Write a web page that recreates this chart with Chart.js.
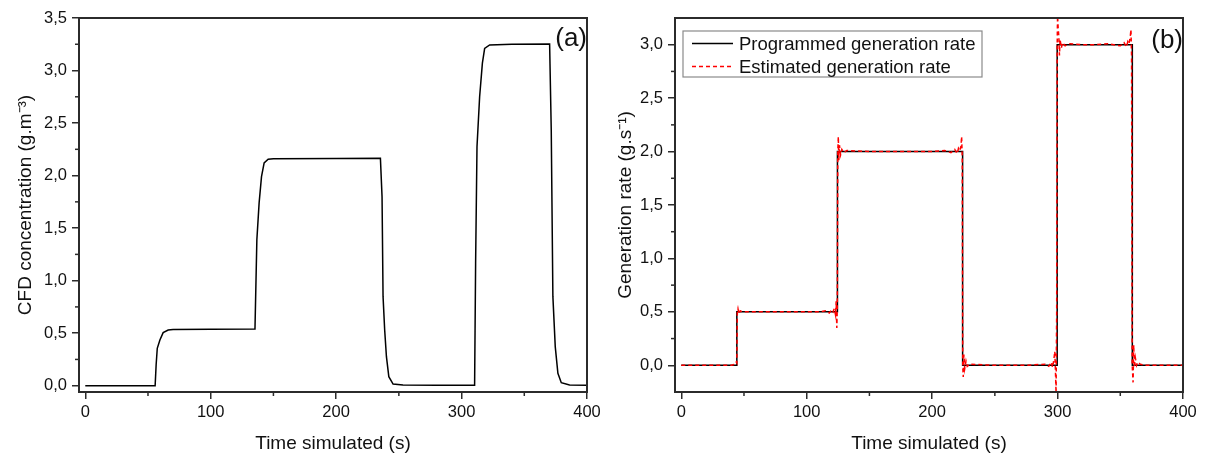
<!DOCTYPE html>
<html lang="en">
<head>
<meta charset="UTF-8">
<title>CFD concentration and generation rate</title>
<script src="https://cdn.jsdelivr.net/npm/chart.js"></script>
<style>
  body { margin: 0; background: #fff; width: 1206px; height: 457px; position: relative; overflow: hidden; }
  .panel { position: absolute; top: 0; height: 457px; }
  #panelA { left: 0; width: 600px; }
  #panelB { left: 600px; width: 606px; }
</style>
</head>
<body>
<div class="panel" id="panelA"><canvas id="chartA" width="600" height="457"></canvas></div>
<div class="panel" id="panelB"><canvas id="chartB" width="606" height="457"></canvas></div>

<script>
// ---- data ----
// (a) CFD concentration
const cfdTime = [0, 20, 40, 55.7, 56.5, 57.4, 59.5, 62.1, 66.1, 70,
  100, 135.3, 136.8, 138.6, 140.5, 142.6, 145.8, 150, 200,
  235.3, 236.6, 237.4, 238.7, 240.1, 242, 245.4, 253.3, 280,
  310.4, 311.2, 312.3, 314.4, 316.6, 318.4, 322.4, 340,
  370.2, 371.5, 372.8, 374.7, 376.8, 379.5, 386.1, 400];
const cfdConc = [0, 0, 0, 0, 0.2, 0.356, 0.435, 0.505, 0.53, 0.535,
  0.537, 0.54, 1.39, 1.74, 1.99, 2.12, 2.155, 2.16, 2.163,
  2.165, 1.80, 0.85, 0.53, 0.276, 0.086, 0.016, 0.006, 0.005,
  0.005, 1.165, 2.275, 2.75, 3.07, 3.21, 3.243, 3.25,
  3.252, 2.43, 0.85, 0.37, 0.118, 0.029, 0.007, 0.005];

// (b) programmed generation rate
const progTime = [0, 44.3, 44.3, 124.5, 124.5, 224.3, 224.3, 299.7, 299.7, 359.6, 359.6, 400];
const progRate = [0, 0, 0.5, 0.5, 2, 2, 0, 0, 3, 3, 0, 0];

// (b) estimated generation rate
const estTime = [0, 20, 40, 43, 43.8, 44.3, 44.7, 45.2, 46, 47,
  48.5, 55, 70, 90, 110, 115, 118, 120, 121, 122,
  123, 123.5, 124, 124.4, 124.8, 125.2, 125.6, 126.1, 127, 128,
  129.5, 132, 150, 175, 200, 210, 215, 218, 220, 221,
  222, 223, 223.5, 224, 224.4, 224.8, 225.3, 226, 227, 228,
  230, 250, 275, 290, 293, 295, 296, 297, 297.8, 298.3,
  298.8, 299.3, 299.7, 300, 300.5, 301, 301.5, 302, 303, 304,
  306, 310, 320, 330, 340, 350, 353, 355, 356, 357,
  358, 358.5, 359, 359.5, 360.2, 360.7, 361.2, 362, 363, 364,
  366, 370, 385, 400];
const estRate = [0, 0, 0, 0.01, 0.03, 0.02, 0.5, 0.53, 0.48, 0.51,
  0.5, 0.5, 0.5, 0.5, 0.5, 0.51, 0.49, 0.52, 0.5, 0.53,
  0.47, 0.6, 0.35, 0.55, 2.0, 2.14, 1.92, 2.06, 1.97, 2.02,
  1.99, 2.01, 2.0, 2.0, 2.0, 2.01, 1.99, 2.02, 1.98, 2.03,
  2.01, 2.05, 2.14, 1.95, 0.0, -0.11, 0.1, -0.03, 0.04, -0.01,
  0.01, 0, 0, 0.01, -0.01, 0.03, -0.02, 0.05, 0.13, -0.05,
  -0.26, 0.5, 3.0, 3.27, 3.15, 3.08, 2.9, 3.05, 2.97, 3.02,
  2.99, 3.01, 3.0, 3.0, 3.01, 2.99, 3.02, 2.98, 3.03, 3.01,
  3.08, 3.14, 2.9, 0.0, -0.16, 0.19, -0.02, 0.07, 0.0, 0.03,
  0.01, 0, 0, 0];

// ticks
const xTicks = [0, 100, 200, 300, 400];
const xMinor = [50, 150, 250, 350];
const yTicksA = [0, 0.5, 1, 1.5, 2, 2.5, 3, 3.5];
const yMinorA = [0.25, 0.75, 1.25, 1.75, 2.25, 2.75, 3.25];
const yTicksB = [0, 0.5, 1, 1.5, 2, 2.5, 3];
const yMinorB = [0.25, 0.75, 1.25, 1.75, 2.25, 2.75];

const FONT = "'Liberation Sans', Arial, sans-serif";
const INK = '#2b2b2b';

function toPoints(xs, ys) {
  return xs.map((x, i) => ({ x: x, y: ys[i] }));
}

// frame, minor ticks, panel letter and boxed legend
const panelPlugin = {
  id: 'panel',
  afterDraw(chart, args, opts) {
    const ctx = chart.ctx;
    const a = chart.chartArea;
    const xs = chart.scales.x, ys = chart.scales.y;
    ctx.save();
    ctx.strokeStyle = INK;
    ctx.lineWidth = 1.5;
    (opts.minorX || []).forEach(v => {
      const p = xs.getPixelForValue(v);
      ctx.beginPath(); ctx.moveTo(p, a.bottom); ctx.lineTo(p, a.bottom + 4); ctx.stroke();
    });
    (opts.minorY || []).forEach(v => {
      const p = ys.getPixelForValue(v);
      ctx.beginPath(); ctx.moveTo(a.left - 4, p); ctx.lineTo(a.left, p); ctx.stroke();
    });
    ctx.lineWidth = 2;
    ctx.strokeRect(a.left, a.top, a.right - a.left, a.bottom - a.top);

    ctx.fillStyle = '#111';
    ctx.font = '26px ' + FONT;
    ctx.textAlign = 'right';
    ctx.textBaseline = 'alphabetic';
    ctx.fillText(opts.label, a.right, a.top + opts.labelY);

    if (opts.legend) {
      ctx.strokeStyle = '#8a8a8a';
      ctx.lineWidth = 1.2;
      ctx.strokeRect(a.left + 8, a.top + 13, 299, 46);
      ctx.font = '18.5px ' + FONT;
      ctx.textAlign = 'left';
      ctx.textBaseline = 'middle';
      chart.data.datasets.forEach((ds, i) => {
        const y = a.top + 25.5 + i * 23;
        ctx.strokeStyle = ds.borderColor;
        ctx.lineWidth = ds.borderWidth;
        ctx.setLineDash(ds.borderDash || []);
        ctx.beginPath(); ctx.moveTo(a.left + 17, y); ctx.lineTo(a.left + 58, y); ctx.stroke();
        ctx.setLineDash([]);
        ctx.fillStyle = '#111';
        ctx.fillText(ds.label, a.left + 64, y + 1);
      });
    }
    ctx.restore();
  }
};

function makeScales(yMin, yMax, yTicks, yTitle, yWidth) {
  return {
    x: {
      type: 'linear', min: -5, max: 400,
      afterBuildTicks: s => { s.ticks = xTicks.map(v => ({ value: v })); },
      afterFit: s => { s.height = 65; s.paddingLeft = 0; s.paddingRight = 0; },
      grid: { drawOnChartArea: false, drawTicks: true, tickLength: 7, color: INK, lineWidth: 1.5 },
      border: { color: INK, width: 2 },
      ticks: { color: '#111', font: { family: FONT, size: 16.5 }, padding: 4, maxRotation: 0,
        callback: v => String(v) },
      title: { display: true, text: 'Time simulated (s)', color: '#111',
        font: { family: FONT, size: 19 }, padding: { top: 0, bottom: 2 } }
    },
    y: {
      type: 'linear', min: yMin, max: yMax,
      afterBuildTicks: s => { s.ticks = yTicks.map(v => ({ value: v })); },
      afterFit: s => { s.width = yWidth; s.paddingTop = 0; s.paddingBottom = 0; },
      grid: { drawOnChartArea: false, drawTicks: true, tickLength: 7, color: INK, lineWidth: 1.5 },
      border: { color: INK, width: 2 },
      ticks: { color: '#111', font: { family: FONT, size: 16.5 }, padding: 5,
        callback: v => v.toFixed(1).replace('.', ',') },
      title: { display: true, text: yTitle, color: '#111',
        font: { family: FONT, size: 19 }, padding: { top: 14, bottom: 0 } }
    }
  };
}

// (a)
new Chart(document.getElementById('chartA'), {
  type: 'line',
  data: {
    datasets: [{
      label: 'CFD concentration',
      data: toPoints(cfdTime, cfdConc),
      borderColor: '#000', borderWidth: 1.5, pointRadius: 0, tension: 0, fill: false
    }]
  },
  options: {
    responsive: false, animation: false,
    layout: { padding: { top: 18, right: 13, left: 0, bottom: 0 } },
    plugins: {
      legend: { display: false }, tooltip: { enabled: false },
      panel: { label: '(a)', labelY: 27.5, minorX: xMinor, minorY: yMinorA, legend: false }
    },
    scales: makeScales(-0.06, 3.5, yTicksA, 'CFD concentration (g.m\u207B\u00B3)', 79)
  },
  plugins: [panelPlugin]
});

// (b)
new Chart(document.getElementById('chartB'), {
  type: 'line',
  data: {
    datasets: [{
      label: 'Programmed generation rate',
      data: toPoints(progTime, progRate),
      borderColor: '#000', borderWidth: 1.5, pointRadius: 0, tension: 0, fill: false, order: 1
    }, {
      label: 'Estimated generation rate',
      data: toPoints(estTime, estRate),
      borderColor: '#ff0000', borderWidth: 1.5, borderDash: [4, 3], pointRadius: 0, tension: 0,
      fill: false, order: 0
    }]
  },
  options: {
    responsive: false, animation: false,
    layout: { padding: { top: 18, right: 23, left: 0, bottom: 0 } },
    plugins: {
      legend: { display: false }, tooltip: { enabled: false },
      panel: { label: '(b)', labelY: 30, minorX: xMinor, minorY: yMinorB, legend: true }
    },
    scales: makeScales(-0.25, 3.25, yTicksB, 'Generation rate (g.s\u207B\u00B9)', 75)
  },
  plugins: [panelPlugin]
});
</script>
</body>
</html>
